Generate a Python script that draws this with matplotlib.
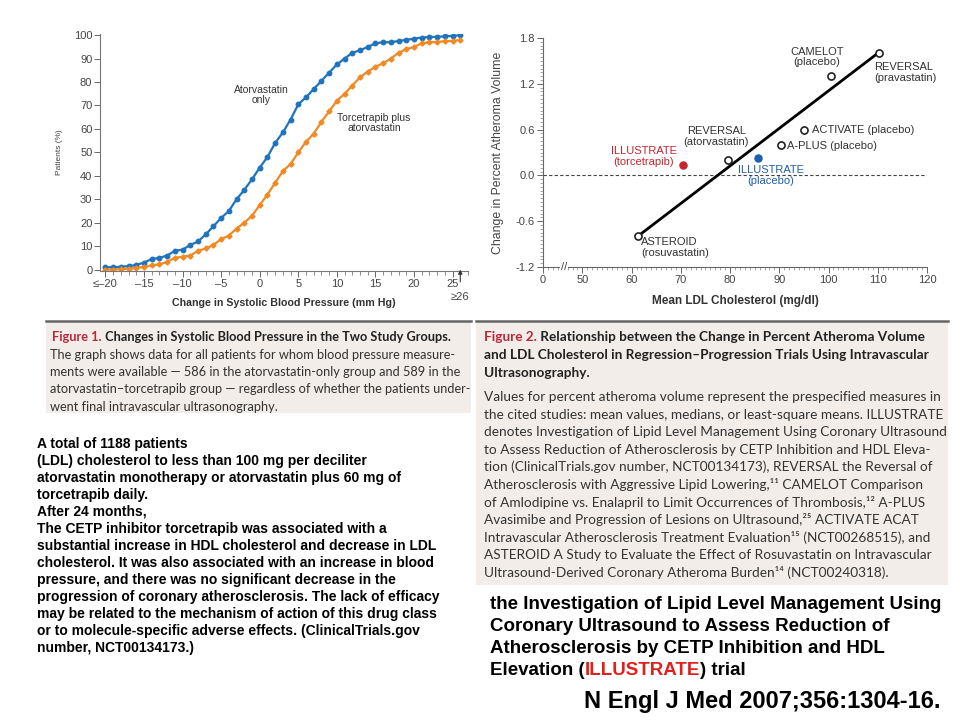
import numpy as np
import matplotlib
matplotlib.use('Agg')
import matplotlib.pyplot as plt
from matplotlib.patches import Rectangle
from matplotlib.lines import Line2D
from matplotlib.ticker import MultipleLocator

W, H = 960, 720

# ---------- Figure 1 data: cumulative % of patients vs change in SBP ----------
sbp_change = [-20, -19, -18, -17, -16, -15, -14, -13, -12, -11, -10, -9, -8, -7, -6, -5,
              -4, -3, -2, -1, 0, 1, 2, 3, 4, 5, 6, 7, 8, 9, 10, 11, 12, 13, 14, 15,
              16, 17, 18, 19, 20, 21, 22, 23, 24, 25, 26]
atorva_only = [1, 1, 1.2, 1.5, 2, 3, 4.5, 5, 6, 8, 8.5, 10.5, 12, 15, 18.5, 22,
               25, 30, 34, 38.5, 43.5, 48, 54, 58.5, 64, 70.5, 73.5, 77, 80.5, 84, 87.5, 90,
               92.5, 93.5, 95, 96.5, 97, 97, 97.5, 98, 98.5, 99, 99.2, 99.3, 99.5, 99.7, 100]
torce_atorva = [0, 0, 0.2, 0.4, 0.7, 1.2, 1.8, 2.2, 3.3, 5, 5.5, 6, 8, 9, 10.5, 13,
                14.5, 17.5, 20, 23, 27.5, 32, 37, 42, 45, 50, 54.5, 58, 63, 67.5, 72, 75,
                78.5, 82, 84.5, 86.5, 88, 90, 92.5, 94, 95, 96.5, 97, 97, 97.5, 97.5, 98]
sbp_ticks = [-20, -15, -10, -5, 0, 5, 10, 15, 20, 25]
sbp_ticklabels = ['\u2264\u201320', '\u201315', '\u201310', '\u20135', '0', '5', '10', '15', '20', '25']

# ---------- Figure 2 data: change in atheroma volume vs mean LDL ----------
trial_ldl = [61.2, 79.5, 90.3, 95.1, 100.4, 110.2]
trial_pav = [-0.80, 0.20, 0.40, 0.60, 1.30, 1.61]
ill_ldl = [70.4, 85.6]          # torcetrapib, placebo
ill_pav = [0.13, 0.23]
fit_ldl = [61.2, 110.2]
fit_pav = [-0.80, 1.61]
ldl_ticks = [42, 50, 60, 70, 80, 90, 100, 110, 120]
ldl_ticklabels = ['0', '50', '60', '70', '80', '90', '100', '110', '120']
pav_ticks = [-1.2, -0.6, 0.0, 0.6, 1.2, 1.8]
pav_ticklabels = ['-1.2', '-0.6', '0.0', '0.6', '1.2', '1.8']

BLUE = '#1f74bd'
ORANGE = '#ef8a25'
RED_ILL = '#c4262e'
BLUE_ILL = '#1f5fae'
CAP_RED = '#b8283a'
CAP_BG = '#f2ede9'


def fx(x):
    return x / W


def fy(y):
    return 1 - y / H


fig = plt.figure(figsize=(9.6, 7.2), dpi=100)
fig.patch.set_facecolor('white')

chart_font = ['Liberation Sans', 'DejaVu Sans']

# ---------- Left chart ----------
ax1 = fig.add_axes([fx(100), fy(271), fx(468) - fx(100), fy(34) - fy(271)])
ax1.plot(sbp_change, atorva_only, color=BLUE, lw=1.6, marker='o', ms=3.2,
         mec=BLUE, mfc=BLUE)
ax1.plot(sbp_change, torce_atorva, color=ORANGE, lw=1.6, marker='D', ms=2.6,
         mec=ORANGE, mfc=ORANGE)
ax1.set_xlim(-20.7, 27)
ax1.set_ylim(-0.6, 100.5)
ax1.set_xticks(sbp_ticks)
ax1.set_xticklabels(sbp_ticklabels)
ax1.xaxis.set_minor_locator(MultipleLocator(1))
ax1.set_yticks(range(0, 101, 10))
for s in ['top', 'right']:
    ax1.spines[s].set_visible(False)
for s in ['left', 'bottom']:
    ax1.spines[s].set_color('#777777')
    ax1.spines[s].set_linewidth(0.8)
ax1.tick_params(axis='both', which='major', labelsize=8, colors='#666666',
                labelcolor='#444444', length=4, width=0.7, pad=1.5)
ax1.tick_params(axis='x', which='minor', length=3, width=0.6, colors='#777777')
for lab in ax1.get_xticklabels() + ax1.get_yticklabels():
    lab.set_family(chart_font)
ax1.set_ylabel('Patients (%)', fontsize=6, color='#444444', family=chart_font, labelpad=8)
ax1.set_xlabel('Change in Systolic Blood Pressure (mm Hg)', fontsize=7.7, color='#333333',
               family=chart_font, fontweight='bold', labelpad=7)
ax1.text(0.2, 74.5, 'Atorvastatin\nonly', fontsize=7.5, color='#333333', ha='center',
         va='center', linespacing=1.1, family=chart_font)
ax1.text(14.8, 62.5, 'Torcetrapib plus\natorvastatin', fontsize=7.5, color='#333333',
         ha='center', va='center', linespacing=1.1, family=chart_font)
ax1.annotate('\u226526', xy=(26, 0), xytext=(26, -11.5), textcoords='data',
             fontsize=8, color='#444444', ha='center', va='center', family=chart_font,
             arrowprops=dict(arrowstyle='-|>', color='#333333', lw=0.8,
                             mutation_scale=6, shrinkA=5, shrinkB=0),
             annotation_clip=False)

# ---------- Right chart ----------
ax2 = fig.add_axes([fx(543), fy(267), fx(927) - fx(543), fy(38) - fy(267)])
ax2.axhline(0, color='#444444', lw=0.8, ls=(0, (3, 2)))
ax2.plot(fit_ldl, fit_pav, color='black', lw=2.0, zorder=3)
ax2.scatter(trial_ldl, trial_pav, s=26, facecolor='white', edgecolor='#222222',
            linewidth=1.2, zorder=4)
ax2.scatter(ill_ldl[0], ill_pav[0], s=26, color=RED_ILL, zorder=4)
ax2.scatter(ill_ldl[1], ill_pav[1], s=26, color=BLUE_ILL, zorder=4)
ax2.set_xlim(42, 120)
ax2.set_ylim(-1.2, 1.8)
ax2.set_xticks(ldl_ticks)
ax2.set_xticklabels(ldl_ticklabels)
ax2.set_yticks(pav_ticks)
ax2.set_yticklabels(pav_ticklabels)
ax2.xaxis.set_minor_locator(MultipleLocator(1))
ax2.yaxis.set_minor_locator(MultipleLocator(0.05))
for s in ['top', 'right']:
    ax2.spines[s].set_visible(False)
for s in ['left', 'bottom']:
    ax2.spines[s].set_color('#666666')
    ax2.spines[s].set_linewidth(0.8)
ax2.tick_params(axis='both', which='major', labelsize=8, colors='#666666',
                labelcolor='#444444', length=4, width=0.7, pad=2)
ax2.tick_params(axis='both', which='minor', length=2, width=0.5, colors='#888888')
for lab in ax2.get_xticklabels() + ax2.get_yticklabels():
    lab.set_family(chart_font)
ax2.set_ylabel('Change in Percent Atheroma Volume', fontsize=8.8, color='#444444',
               family=chart_font, labelpad=8)
ax2.set_xlabel('Mean LDL Cholesterol (mg/dl)', fontsize=8.5, color='#333333',
               family=chart_font, fontweight='bold', labelpad=7)
ax2.text(46.3, -1.2, '//', fontsize=8, color='#444444', ha='center', va='center',
         family=chart_font, clip_on=False,
         bbox=dict(facecolor='white', edgecolor='none', pad=0.5))

lab_kw = dict(fontsize=8, color='#333333', family=chart_font, linespacing=1.1)
ax2.text(97.6, 1.55, 'CAMELOT\n(placebo)', ha='center', va='center', **lab_kw)
ax2.text(109.3, 1.35, 'REVERSAL\n(pravastatin)', ha='left', va='center', **lab_kw)
ax2.text(77.2, 0.51, 'REVERSAL\n(atorvastatin)', ha='center', va='center', **lab_kw)
ax2.text(96.7, 0.60, 'ACTIVATE (placebo)', ha='left', va='center', **lab_kw)
ax2.text(91.6, 0.39, 'A-PLUS (placebo)', ha='left', va='center', **lab_kw)
ax2.text(62.0, -0.94, 'ASTEROID\n(rosuvastatin)', ha='left', va='center', **lab_kw)
ax2.text(62.5, 0.25, 'ILLUSTRATE\n(torcetrapib)', ha='center', va='center',
         fontsize=8, color=RED_ILL, family=chart_font, linespacing=1.1)
ax2.text(88.3, 0.0, 'ILLUSTRATE\n(placebo)', ha='center', va='center',
         fontsize=8, color=BLUE_ILL, family=chart_font, linespacing=1.1)

# ---------- Caption boxes ----------
cap_font = ['Lato', 'DejaVu Sans']
CAP1_SIZE = 9.2
CAP2_SIZE = 9.8

# transparent overlay axes used to chain coloured text pieces
ax_top = fig.add_axes([0, 0, 1, 1], facecolor='none')
ax_top.set_axis_off()
ax_top.set_zorder(10)


def caption_box(x0, y0, x1, y1):
    fig.patches.append(Rectangle((fx(x0), fy(y1)), fx(x1) - fx(x0), fy(y0) - fy(y1),
                                 transform=fig.transFigure, facecolor=CAP_BG,
                                 edgecolor='none', zorder=-1))
    fig.lines.append(Line2D([fx(x0), fx(x1)], [fy(y0), fy(y0)], transform=fig.transFigure,
                            color='#666666', lw=1.8))


def body_lines(x, y, lines, step, size, color='#333333', weight='normal', family=None):
    for i, line in enumerate(lines):
        ax_top.text(fx(x), fy(y + i * step), line, fontsize=size, color=color,
                    family=family or cap_font, fontweight=weight, va='baseline',
                    transform=fig.transFigure)


def chained(x, y, pieces, size, family, weight='bold'):
    prev = None
    for txt, col in pieces:
        if prev is None:
            prev = ax_top.text(fx(x), fy(y), txt, fontsize=size, color=col, family=family,
                               fontweight=weight, va='baseline', transform=fig.transFigure)
        else:
            prev = ax_top.annotate(txt, xy=(1, 0), xycoords=prev, va='bottom', fontsize=size,
                                   color=col, family=family, fontweight=weight)
    return prev


caption_box(46, 321, 471, 413)
caption_box(476, 321, 948, 585)

chained(52, 341, [('Figure 1.', CAP_RED),
                  (' Changes in Systolic Blood Pressure in the Two Study Groups.', '#222222')],
        CAP1_SIZE, cap_font)
cap1 = ['The graph shows data for all patients for whom blood pressure measure-',
        'ments were available \u2014 586 in the atorvastatin-only group and 589 in the',
        'atorvastatin\u2013torcetrapib group \u2014 regardless of whether the patients under-',
        'went final intravascular ultrasonography.']
body_lines(50, 359, cap1, 17.2, CAP1_SIZE)

chained(484, 341, [('Figure 2.', CAP_RED),
                   (' Relationship between the Change in Percent Atheroma Volume', '#222222')],
        CAP2_SIZE, cap_font)
body_lines(484, 359, ['and LDL Cholesterol in Regression\u2013Progression Trials Using Intravascular',
                      'Ultrasonography.'], 18, CAP2_SIZE, weight='bold', color='#222222')
cap2 = ['Values for percent atheroma volume represent the prespecified measures in',
        'the cited studies: mean values, medians, or least-square means. ILLUSTRATE',
        'denotes Investigation of Lipid Level Management Using Coronary Ultrasound',
        'to Assess Reduction of Atherosclerosis by CETP Inhibition and HDL Eleva-',
        'tion (ClinicalTrials.gov number, NCT00134173), REVERSAL the Reversal of',
        'Atherosclerosis with Aggressive Lipid Lowering,\u00b9\u00b9 CAMELOT Comparison',
        'of Amlodipine vs. Enalapril to Limit Occurrences of Thrombosis,\u00b9\u00b2 A-PLUS',
        'Avasimibe and Progression of Lesions on Ultrasound,\u00b2\u2075 ACTIVATE ACAT',
        'Intravascular Atherosclerosis Treatment Evaluation\u00b9\u2075 (NCT00268515), and',
        'ASTEROID A Study to Evaluate the Effect of Rosuvastatin on Intravascular',
        'Ultrasound-Derived Coronary Atheroma Burden\u00b9\u2074 (NCT00240318).']
body_lines(484, 401, cap2, 17.6, CAP2_SIZE)

# ---------- Slide text ----------
slide_font = ['Liberation Sans', 'DejaVu Sans']
left_text = ['A total of 1188 patients',
             '(LDL) cholesterol to less than 100 mg per deciliter',
             'atorvastatin monotherapy or atorvastatin plus 60 mg of',
             'torcetrapib daily.',
             'After 24 months,',
             'The CETP inhibitor torcetrapib was associated with a',
             'substantial increase in HDL cholesterol and decrease in LDL',
             'cholesterol. It was also associated with an increase in blood',
             'pressure, and there was no significant decrease in the',
             'progression of coronary atherosclerosis. The lack of efficacy',
             'may be related to the mechanism of action of this drug class',
             'or to molecule-specific adverse effects. (ClinicalTrials.gov',
             'number, NCT00134173.)']
body_lines(37, 448, left_text, 17.0, 10, color='black', weight='bold', family=slide_font)

right_text = ['the Investigation of Lipid Level Management Using',
              'Coronary Ultrasound to Assess Reduction of',
              'Atherosclerosis by CETP Inhibition and HDL']
body_lines(490, 609, right_text, 22, 13.5, color='black', weight='bold', family=slide_font)
chained(490, 675, [('Elevation (', 'black'), ('ILLUSTRATE', '#e0201b'), (') trial', 'black')],
        13.5, slide_font)
ax_top.text(fx(940), fy(708), 'N Engl J Med 2007;356:1304-16.', fontsize=17, color='black',
            fontweight='bold', family=slide_font, ha='right', va='baseline',
            transform=fig.transFigure)

fig.savefig('out.png', dpi=100)
